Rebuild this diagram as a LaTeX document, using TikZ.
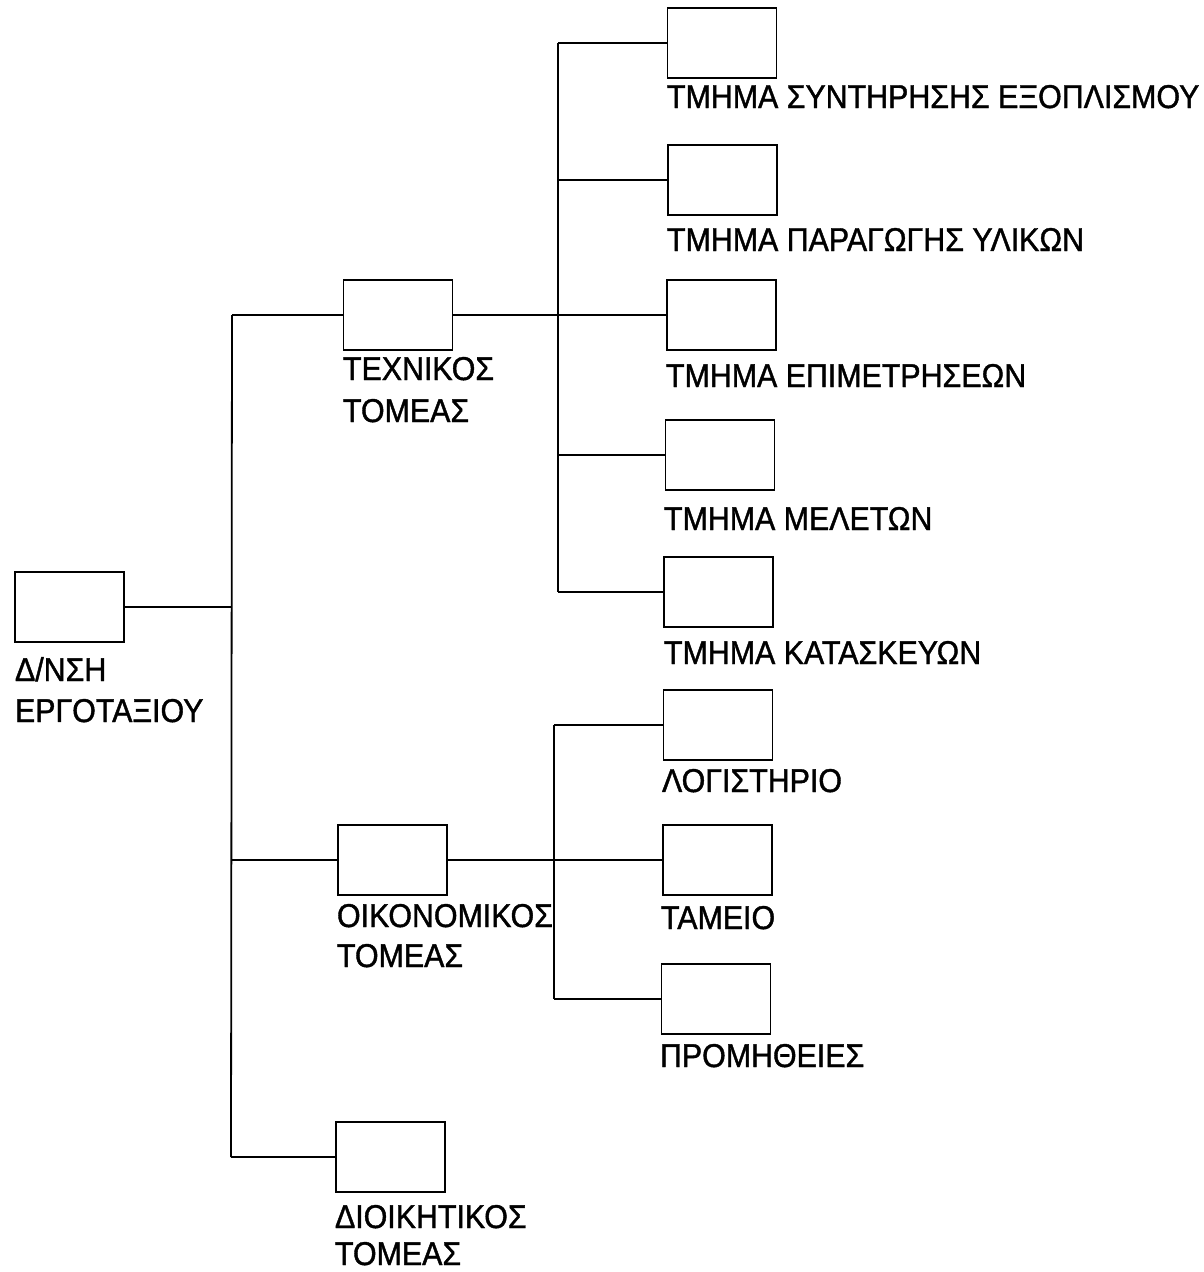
\documentclass[tikz,border=0pt]{standalone}
\usepackage{fontspec}
\newfontfamily\lblfont[FakeStretch=0.92,FakeBold=1.2]{Liberation Sans}
\begin{document}
\begin{tikzpicture}[x=1pt,y=-1pt,
  box/.style={draw, line width=1.8pt, minimum width=109pt, minimum height=70pt, inner sep=0pt, outer sep=0pt},
  conn/.style={line width=1.8pt},
  lbl/.style={anchor=base west, inner sep=0pt, outer sep=0pt, font={\lblfont\fontsize{33}{42}\selectfont}}]
\fill[white] (0,0) rectangle (1204,1272);
\useasboundingbox (0,0) rectangle (1204,1272);
% boxes
\node[box] (root) at (69.5,607) {};
\node[box] (tech) at (398,315) {};
\node[box] (oik) at (392.5,860) {};
\node[box] (dioik) at (390.5,1157) {};
\node[box] (s1) at (722,43) {};
\node[box] (s2) at (722.5,180) {};
\node[box] (s3) at (721.5,315) {};
\node[box] (s4) at (720,455) {};
\node[box] (s5) at (718.5,592) {};
\node[box] (o1) at (718,725) {};
\node[box] (o2) at (717.5,860) {};
\node[box] (o3) at (716,999) {};
% trunk coordinates
\coordinate (ttop) at (232,315);
\coordinate (troot) at (232,607);
\coordinate (toik) at (231.5,860);
\coordinate (tbot) at (231,1157);
\coordinate (atop) at (558,43);
\coordinate (a2) at (558,180);
\coordinate (a4) at (558,455);
\coordinate (abot) at (558,592);
\coordinate (btop) at (554,725);
\coordinate (bbot) at (554,999);
% connectors
\draw[conn] (ttop) -- (tbot);
\draw[conn] (root.east) -- (troot);
\draw[conn] (ttop) -- (tech.west);
\draw[conn] (toik) -- (oik.west);
\draw[conn] (tbot) -- (dioik.west);
\draw[conn] (atop) -- (abot);
\draw[conn] (atop) -- (s1.west);
\draw[conn] (a2) -- (s2.west);
\draw[conn] (tech.east) -- (s3.west);
\draw[conn] (a4) -- (s4.west);
\draw[conn] (abot) -- (s5.west);
\draw[conn] (btop) -- (bbot);
\draw[conn] (btop) -- (o1.west);
\draw[conn] (oik.east) -- (o2.west);
\draw[conn] (bbot) -- (o3.west);
% labels
\node[lbl] (lroot1) at (15,681) {Δ/ΝΣΗ};
\node[lbl] (lroot2) at (15,722) {ΕΡΓΟΤΑΞΙΟΥ};
\node[lbl] (ltech1) at (343,380) {ΤΕΧΝΙΚΟΣ};
\node[lbl] (ltech2) at (343,422) {ΤΟΜΕΑΣ};
\node[lbl] (loik1) at (337,927) {ΟΙΚΟΝΟΜΙΚΟΣ};
\node[lbl] (loik2) at (337,967) {ΤΟΜΕΑΣ};
\node[lbl] (ldioik1) at (335,1228) {ΔΙΟΙΚΗΤΙΚΟΣ};
\node[lbl] (ldioik2) at (335,1265) {ΤΟΜΕΑΣ};
\node[lbl] (ls1) at (667,108) {ΤΜΗΜΑ ΣΥΝΤΗΡΗΣΗΣ ΕΞΟΠΛΙΣΜΟΥ};
\node[lbl] (ls2) at (667,251) {ΤΜΗΜΑ ΠΑΡΑΓΩΓΗΣ ΥΛΙΚΩΝ};
\node[lbl] (ls3) at (666,387) {ΤΜΗΜΑ ΕΠΙΜΕΤΡΗΣΕΩΝ};
\node[lbl] (ls4) at (664,530) {ΤΜΗΜΑ ΜΕΛΕΤΩΝ};
\node[lbl] (ls5) at (664,664) {ΤΜΗΜΑ ΚΑΤΑΣΚΕΥΩΝ};
\node[lbl] (lo1) at (662,792) {ΛΟΓΙΣΤΗΡΙΟ};
\node[lbl] (lo2) at (661,929) {ΤΑΜΕΙΟ};
\node[lbl] (lo3) at (660,1067) {ΠΡΟΜΗΘΕΙΕΣ};
\end{tikzpicture}
\end{document}
